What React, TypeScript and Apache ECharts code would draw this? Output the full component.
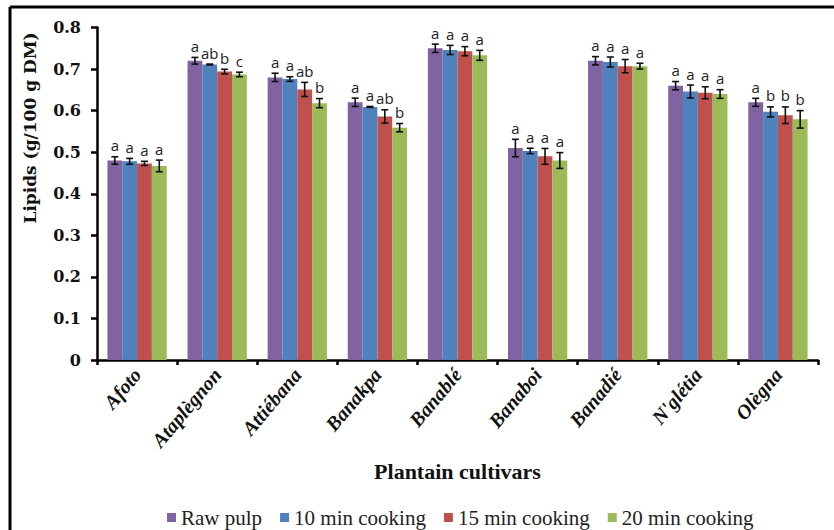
import React, { useEffect, useRef } from "react";
import * as echarts from "echarts";

// Plantain cultivars and cooking treatments
const cultivars = ["Afoto", "Ataplègnon", "Attiébana", "Banakpa", "Banablé", "Banaboi", "Banadié", "N'glétia", "Olègna"];
const treatments = ["Raw pulp", "10 min cooking", "15 min cooking", "20 min cooking"];
const colors = ["#8064A2", "#4F81BD", "#C0504D", "#9BBB59"];

// Lipid content (g/100 g DM)
const rawPulp = [0.48, 0.72, 0.68, 0.62, 0.75, 0.51, 0.72, 0.66, 0.62];
const cook10 = [0.478, 0.711, 0.676, 0.609, 0.746, 0.503, 0.717, 0.646, 0.597];
const cook15 = [0.473, 0.694, 0.651, 0.586, 0.743, 0.49, 0.707, 0.643, 0.589];
const cook20 = [0.467, 0.687, 0.618, 0.559, 0.733, 0.48, 0.707, 0.64, 0.579];

// Standard deviations
const rawErr = [0.009, 0.008, 0.01, 0.01, 0.01, 0.021, 0.01, 0.01, 0.0096];
const cook10Err = [0.007, 0.001, 0.0055, 0.001, 0.011, 0.0065, 0.012, 0.0156, 0.012];
const cook15Err = [0.005, 0.0055, 0.017, 0.016, 0.011, 0.019, 0.016, 0.0144, 0.02];
const cook20Err = [0.014, 0.0055, 0.011, 0.01, 0.012, 0.019, 0.007, 0.0104, 0.021];

// Significance letters
const rawLetters = ["a", "a", "a", "a", "a", "a", "a", "a", "a"];
const cook10Letters = ["a", "ab", "a", "a", "a", "a", "a", "a", "b"];
const cook15Letters = ["a", "b", "ab", "ab", "a", "a", "a", "a", "b"];
const cook20Letters = ["a", "c", "b", "b", "a", "a", "a", "a", "b"];

// Y axis ticks
const yMin = 0;
const yMax = 0.8;
const yStep = 0.1;

const values = [rawPulp, cook10, cook15, cook20];
const errors = [rawErr, cook10Err, cook15Err, cook20Err];
const letters = [rawLetters, cook10Letters, cook15Letters, cook20Letters];

const CAT_GAP = 0.26;
const SERIF = "'Liberation Serif', 'DejaVu Serif', serif";

export default function App() {
  const ref = useRef<HTMLDivElement>(null);

  useEffect(() => {
    if (!ref.current) return;
    const chart = echarts.init(ref.current, null, { renderer: "svg" });

    const errData: any[] = [];
    const errMeta: { s: number; c: number }[] = [];
    for (let s = 0; s < treatments.length; s++) {
      for (let c = 0; c < cultivars.length; c++) {
        errData.push([c, values[s][c], errors[s][c]]);
        errMeta.push({ s, c });
      }
    }

    const barSeries = treatments.map((name, s) => ({
      name,
      type: "bar",
      data: values[s],
      itemStyle: { color: colors[s] },
      barGap: "0%",
      barCategoryGap: `${CAT_GAP * 100}%`,
    }));

    const option: any = {
      animation: false,
      backgroundColor: "#ffffff",
      grid: { left: 97, right: 16, top: 27.5, bottom: 170, containLabel: false },
      legend: {
        data: treatments,
        left: 162,
        top: 502,
        icon: "rect",
        itemWidth: 9,
        itemHeight: 9,
        itemGap: 18,
        textStyle: { fontFamily: SERIF, fontSize: 21, color: "#222" },
      },
      xAxis: {
        type: "category",
        data: cultivars,
        name: "Plantain cultivars",
        nameLocation: "middle",
        nameGap: 100,
        nameTextStyle: { fontFamily: SERIF, fontWeight: "bold", fontSize: 22, color: "#111" },
        axisLine: { lineStyle: { color: "#000", width: 2.5 } },
        axisTick: { show: true, length: 5, lineStyle: { color: "#000", width: 2.5 } },
        axisLabel: {
          rotate: 50,
          margin: 11,
          fontFamily: SERIF,
          fontStyle: "italic",
          fontWeight: "bold",
          fontSize: 20,
          color: "#111",
        },
      },
      yAxis: {
        type: "value",
        min: yMin,
        max: yMax,
        interval: yStep,
        splitLine: { show: false },
        axisLine: { show: true, lineStyle: { color: "#000", width: 2.5 } },
        axisTick: { show: true, length: 6, lineStyle: { color: "#000", width: 2.5 } },
        axisLabel: {
          margin: 16,
          fontFamily: "'DejaVu Serif', serif",
          fontWeight: "bold",
          fontSize: 16,
          color: "#111",
          formatter: (v: number) => (v === 0 ? "0" : v.toFixed(1)),
        },
      },
      graphic: [
        {
          type: "text",
          x: 30,
          y: 128,
          rotation: Math.PI / 2,
          style: {
            text: "Lipids (g/100 g DM)",
            fontFamily: "'DejaVu Serif', serif",
            fontWeight: "bold",
            fontSize: 17,
            fill: "#111",
            textAlign: "center",
            textVerticalAlign: "middle",
          },
        },
        { type: "line", shape: { x1: 10, y1: 7, x2: 834, y2: 7 }, style: { stroke: "#000", lineWidth: 3 } },
        { type: "line", shape: { x1: 10, y1: 7, x2: 10, y2: 530 }, style: { stroke: "#000", lineWidth: 3 } },
      ],
      series: [
        ...barSeries,
        {
          type: "custom",
          name: "errors",
          z: 5,
          data: errData,
          encode: { x: 0, y: 1 },
          renderItem: (params: any, api: any) => {
            const meta = errMeta[params.dataIndex];
            const c = api.value(0);
            const v = api.value(1);
            const e = api.value(2);
            const band = api.size([1, 0])[0];
            const barW = (band * (1 - CAT_GAP)) / treatments.length;
            const offset = -(band * (1 - CAT_GAP)) / 2 + barW / 2 + meta.s * barW;
            const top = api.coord([c, v + e]);
            const bot = api.coord([c, v - e]);
            const x = top[0] + offset;
            const cap = 3.5;
            const stroke = { stroke: "#111", lineWidth: 1.6 };
            return {
              type: "group",
              children: [
                { type: "line", shape: { x1: x, y1: top[1], x2: x, y2: bot[1] }, style: stroke },
                { type: "line", shape: { x1: x - cap, y1: top[1], x2: x + cap, y2: top[1] }, style: stroke },
                { type: "line", shape: { x1: x - cap, y1: bot[1], x2: x + cap, y2: bot[1] }, style: stroke },
                {
                  type: "text",
                  x: x,
                  y: top[1] - 4,
                  style: {
                    text: letters[meta.s][meta.c],
                    fontFamily: "'Open Sans', sans-serif",
                    fontSize: 15,
                    fill: "#222",
                    textAlign: "center",
                    textVerticalAlign: "bottom",
                  },
                },
              ],
            };
          },
        },
      ],
    };

    chart.setOption(option);
    return () => chart.dispose();
  }, []);

  return (
    <div
      ref={ref}
      style={{ position: "fixed", left: 0, top: 0, width: 834, height: 530, background: "#fff" }}
    />
  );
}
